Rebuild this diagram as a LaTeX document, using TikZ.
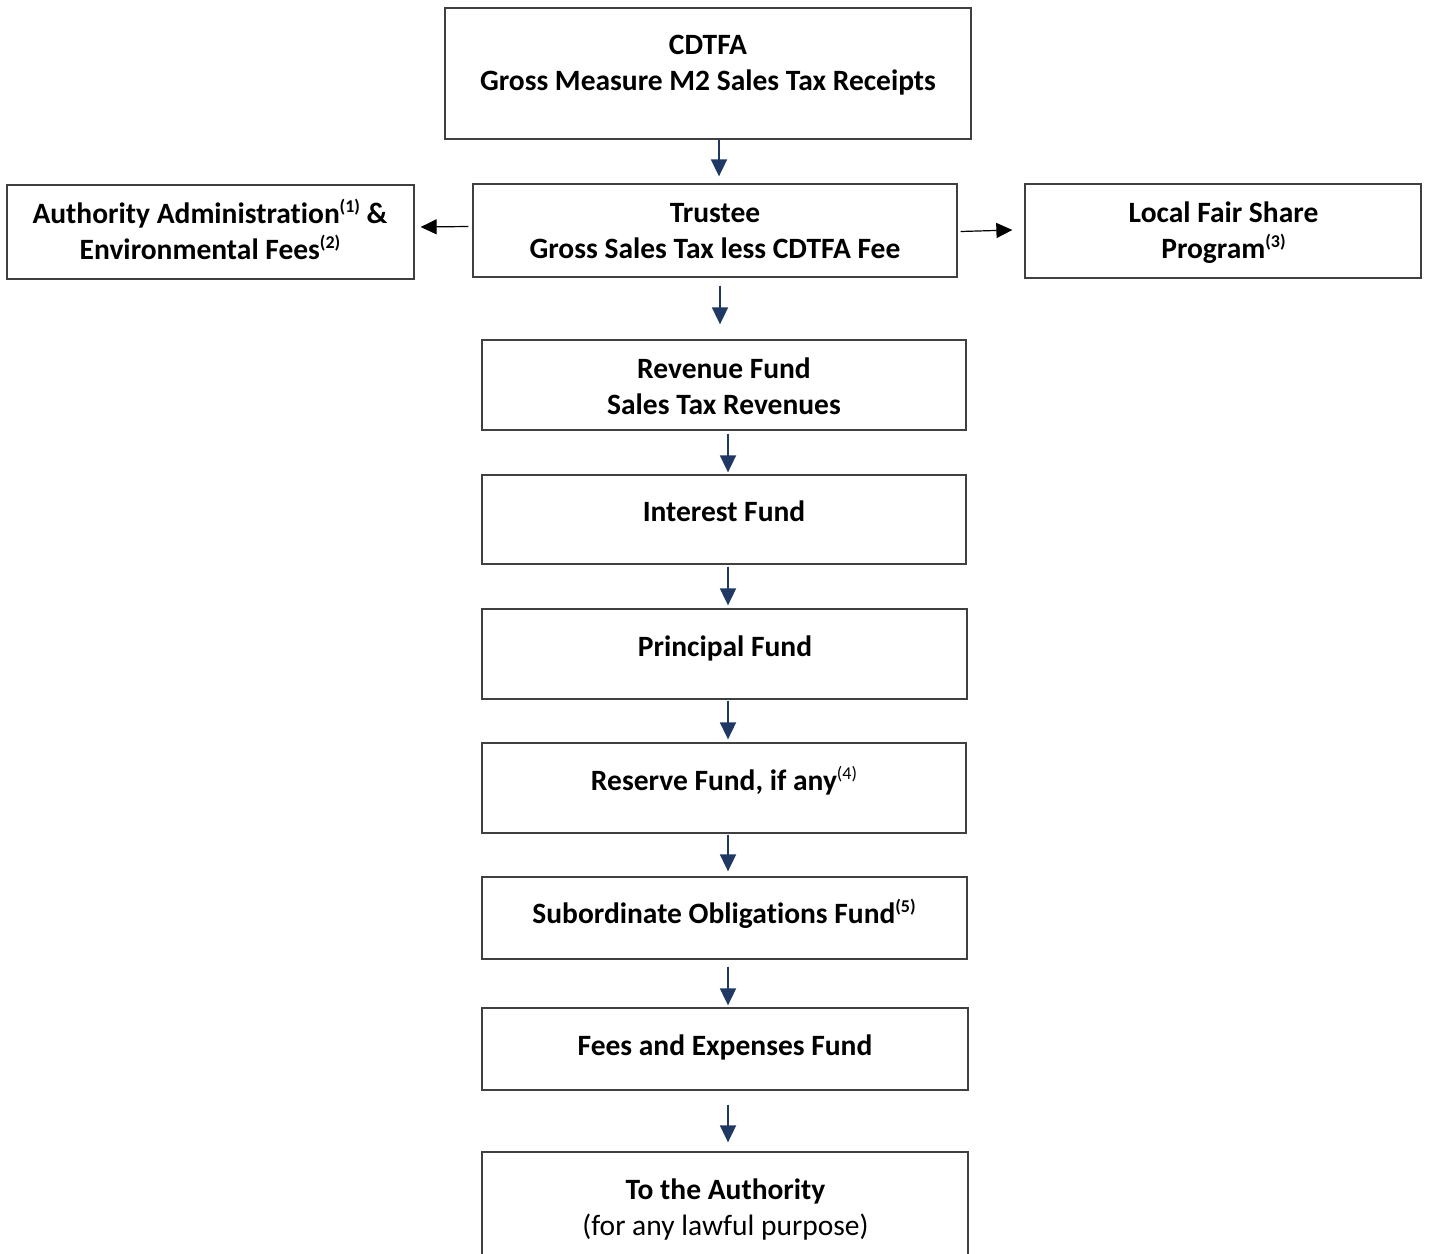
\documentclass[tikz,border=0pt]{standalone}
\usepackage{fontspec}
\setmainfont{Carlito}[Ligatures={NoCommon}]
\usetikzlibrary{arrows.meta,calc}
\definecolor{arrblue}{HTML}{1F3864}
\definecolor{boxgray}{HTML}{404040}
\newcommand\supmark[1]{\raisebox{10.5pt}{\fontsize{18}{18}\selectfont #1}}
\begin{document}
\begin{tikzpicture}[x=1pt,y=-1pt,
  box/.style={draw=boxgray,line width=1.3pt,inner sep=0pt,rectangle},
  lbl/.style={font=\bfseries\fontsize{29.5}{34}\selectfont,anchor=base,inner sep=0pt},
  lblr/.style={font=\fontsize{29.5}{34}\selectfont,anchor=base,inner sep=0pt},
  barr/.style={draw=arrblue,line width=1.8pt,-{Triangle[width=16pt,length=17pt]},fill=arrblue},
  karr/.style={draw=black,line width=1.2pt,-{Triangle[width=15pt,length=16pt]}}]
\clip (0,0) rectangle (1429,1253);
\fill[white] (0,0) rectangle (1429,1253);
% boxes
\node[box,minimum width=526pt,minimum height=131pt] (cdtfa) at (708,73.5) {};
\node[box,minimum width=484pt,minimum height=93pt] (trustee) at (715,230.5) {};
\node[box,minimum width=407pt,minimum height=94pt] (admin) at (210.5,232) {};
\node[box,minimum width=396pt,minimum height=94pt] (lfs) at (1223,231) {};
\node[box,minimum width=484pt,minimum height=90pt] (revenue) at (724,385) {};
\node[box,minimum width=484pt,minimum height=89pt] (interest) at (724,519.5) {};
\node[box,minimum width=485pt,minimum height=90pt] (principal) at (724.5,654) {};
\node[box,minimum width=484pt,minimum height=90pt] (reserve) at (724,788) {};
\node[box,minimum width=485pt,minimum height=82pt] (subord) at (724.5,918) {};
\node[box,minimum width=486pt,minimum height=82pt] (fees) at (725,1049) {};
\node[box,minimum width=486pt,minimum height=140pt] (auth) at (725,1222) {};
% labels
\node[lbl] (cdtfaA) at (708,54) {CDTFA};
\node[lbl] (cdtfaB) at (708,90) {Gross Measure M2 Sales Tax Receipts};
\node[lbl] (trusteeA) at (715,222) {Trustee};
\node[lbl] (trusteeB) at (715,258) {Gross Sales Tax less CDTFA Fee};
\node[lbl] (adminA) at (210,223) {Authority Administration\supmark{(1)} \&};
\node[lbl] (adminB) at (210,259) {Environmental Fees\supmark{(2)}};
\node[lbl] (lfsA) at (1223.5,222) {Local Fair Share};
\node[lbl] (lfsB) at (1223.5,258) {Program\supmark{(3)}};
\node[lbl] (revA) at (724,378) {Revenue Fund};
\node[lbl] (revB) at (724,414) {Sales Tax Revenues};
\node[lbl] (intA) at (724,521) {Interest Fund};
\node[lbl] (prinA) at (725,656) {Principal Fund};
\node[lbl] (resA) at (724,790) {Reserve Fund, if any{\mdseries\supmark{(4)}}};
\node[lbl] (subA) at (724,923) {Subordinate Obligations Fund\supmark{(5)}};
\node[lbl] (feesA) at (725,1055) {Fees and Expenses Fund};
\node[lbl] (authA) at (725.5,1199) {To the Authority};
\node[lblr] (authB) at (725.5,1235) {(for any lawful purpose)};
% arrows
\draw[barr] ($(cdtfa.south)+(11,0)$) -- ($(trustee.north)+(4,-7)$);
\draw[barr] ($(trustee.south)+(5,8)$) -- ($(revenue.north)+(-4,-15)$);
\draw[barr] ($(revenue.south)+(4,3)$) -- ($(interest.north)+(4,-2)$);
\draw[barr] ($(interest.south)+(4,2)$) -- ($(principal.north)+(3.5,-3)$);
\draw[barr] ($(principal.south)+(3.5,1)$) -- ($(reserve.north)+(4,-3)$);
\draw[barr] ($(reserve.south)+(4,1)$) -- ($(subord.north)+(3.5,-5)$);
\draw[barr] ($(subord.south)+(3.5,7)$) -- ($(fees.north)+(3,-2)$);
\draw[barr] ($(fees.south)+(3,14)$) -- ($(auth.north)+(3,-9)$);
\draw[karr] ($(trustee.west)+(-4,-4)$) -- ($(admin.east)+(6,-5)$);
\draw[karr] ($(trustee.east)+(3,1)$) -- ($(lfs.west)+(-12,-1)$);
\end{tikzpicture}
\end{document}
